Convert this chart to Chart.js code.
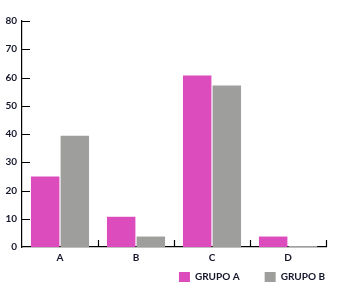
<!DOCTYPE html>
<html>
<head>
<meta charset="utf-8">
<script src="https://cdn.jsdelivr.net/npm/chart.js@4.4.0/dist/chart.umd.min.js"></script>
<style>
  html, body { margin: 0; padding: 0; background: #fff; }
  #wrap { width: 344px; height: 288px; }
</style>
</head>
<body>
<div id="wrap"><canvas id="chart" width="344" height="288"></canvas></div>
<script>
const categories = ["A", "B", "C", "D"];
const seriesNames = ["GRUPO A", "GRUPO B"];
const grupoA = [25, 10.7, 60.7, 3.7];
const grupoB = [39.4, 3.7, 57.2, 0];
const yTicks = [0, 10, 20, 30, 40, 50, 60, 70, 80];

const PINK = "#dc4cbd";
const GREY = "#9e9e9c";
const INK = "#15172b";
const font = { family: "Lato", size: 10, weight: "bold" };

// tick marks point inward in the original, so draw them ourselves
const inwardTicks = {
  id: "inwardTicks",
  afterDraw(chart) {
    const { ctx } = chart;
    const x = chart.scales.x;
    const y = chart.scales.y;
    ctx.save();
    ctx.strokeStyle = "#000";
    ctx.lineWidth = 1.2;
    ctx.beginPath();
    yTicks.forEach((v) => {
      if (v === 0) return;
      const py = Math.round(y.getPixelForValue(v)) + 0.5;
      ctx.moveTo(y.right, py);
      ctx.lineTo(y.right + 8, py);
    });
    for (let i = 1; i <= categories.length; i++) {
      const px = Math.round(x.getPixelForValue(i - 0.5)) + 0.5;
      ctx.moveTo(px, x.top);
      ctx.lineTo(px, x.top - 7);
    }
    ctx.stroke();
    ctx.restore();
  },
};

new Chart(document.getElementById("chart"), {
  type: "bar",
  data: {
    labels: categories,
    datasets: [
      { label: seriesNames[0], data: grupoA, backgroundColor: PINK },
      { label: seriesNames[1], data: grupoB, backgroundColor: GREY, minBarLength: 1 },
    ],
  },
  options: {
    responsive: false,
    animation: false,
    categoryPercentage: 0.78,
    barPercentage: 0.96,
    layout: { padding: { top: 21, left: 0, right: -6, bottom: -4 } },
    plugins: {
      tooltip: { enabled: false },
      legend: {
        position: "bottom",
        align: "end",
        labels: {
          boxWidth: 11,
          boxHeight: 10,
          padding: 25,
          color: INK,
          font,
        },
      },
    },
    scales: {
      x: {
        grid: { display: false, drawTicks: false },
        border: { display: true, color: "#000", width: 1.2 },
        // mirror only switches off label clipping here (the axis box is squeezed to 0),
        // so the padding is flipped to put the labels back under the axis
        ticks: { color: INK, font, padding: -17, mirror: true },
        afterFit: (s) => { s.height = 0; },
      },
      y: {
        min: 0,
        max: 80,
        afterBuildTicks: (s) => { s.ticks = yTicks.map((v) => ({ value: v })); },
        grid: { display: false, drawTicks: false },
        border: { display: true, color: "#000", width: 1.2 },
        ticks: { color: INK, font, padding: 5 },
        afterFit: (s) => { s.width = 22; },
      },
      yRight: {
        type: "linear",
        position: "right",
        grid: { display: false, drawTicks: false },
        border: { display: false },
        ticks: { display: false },
        afterFit: (s) => { s.width = 24; },
      },
    },
  },
  plugins: [inwardTicks],
});
</script>
</body>
</html>
